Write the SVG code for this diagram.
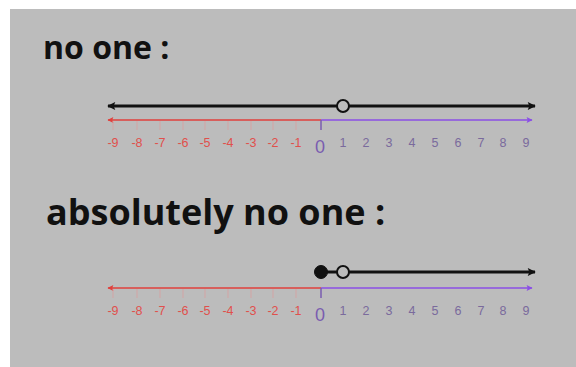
<svg xmlns="http://www.w3.org/2000/svg" width="576" height="367" viewBox="0 0 576 367">
<defs>
<style>
.title{font-family:"Open Sans","DejaVu Sans",sans-serif;font-weight:bold;fill:#111}
.neg{font-family:"Liberation Sans",Arial,sans-serif;font-size:12.5px;fill:#e0504c;text-anchor:middle}
.pos{font-family:"Liberation Sans",Arial,sans-serif;font-size:12.5px;fill:#7a6a9c;text-anchor:middle}
.zero{font-family:"Liberation Sans",Arial,sans-serif;font-size:18px;fill:#7a5cb0;text-anchor:middle}
.blk{stroke:#111;stroke-width:3;fill:none}
.red{stroke:#e0403c;stroke-width:1.5;fill:none}
.pur{stroke:#8b4fe6;stroke-width:1.5;fill:none}
.tick{stroke:#d9a0a0;stroke-width:0.8}
.ztick{stroke:#7a5cb0;stroke-width:1.5}
.open{fill:#bcbcbc;stroke:#111;stroke-width:2}
.fill{fill:#111;stroke:#111;stroke-width:1}
</style>
<marker id="ab" viewBox="0 0 10 10" refX="9" refY="5" markerWidth="5" markerHeight="2.7" orient="auto-start-reverse" markerUnits="strokeWidth"><path d="M0,0 L10,5 L0,10 L2,5 z" fill="#111"/></marker>
<marker id="ar" viewBox="0 0 10 10" refX="9" refY="5" markerWidth="8" markerHeight="4" orient="auto-start-reverse" markerUnits="strokeWidth"><path d="M0,0 L10,5 L0,10 L2,5 z" fill="#e0403c"/></marker>
<marker id="ap" viewBox="0 0 10 10" refX="9" refY="5" markerWidth="8" markerHeight="4" orient="auto-start-reverse" markerUnits="strokeWidth"><path d="M0,0 L10,5 L0,10 L2,5 z" fill="#8b4fe6"/></marker>
<g id="axis">
<line class="red" x1="321" y1="0" x2="108" y2="0" marker-end="url(#ar)"/>
<line class="pur" x1="321" y1="0" x2="532" y2="0" marker-end="url(#ap)"/>
<line class="ztick" x1="321" y1="0" x2="321" y2="10"/>
<g class="tick">
<line x1="113" y1="1" x2="113" y2="10"/><line x1="137" y1="1" x2="137" y2="10"/><line x1="160" y1="1" x2="160" y2="10"/><line x1="183" y1="1" x2="183" y2="10"/><line x1="205" y1="1" x2="205" y2="10"/><line x1="228" y1="1" x2="228" y2="10"/><line x1="251" y1="1" x2="251" y2="10"/><line x1="273" y1="1" x2="273" y2="10"/><line x1="296" y1="1" x2="296" y2="10"/>
</g>
<text class="neg" x="113" y="27">-9</text><text class="neg" x="137" y="27">-8</text><text class="neg" x="160" y="27">-7</text><text class="neg" x="183" y="27">-6</text><text class="neg" x="205" y="27">-5</text><text class="neg" x="228" y="27">-4</text><text class="neg" x="251" y="27">-3</text><text class="neg" x="273" y="27">-2</text><text class="neg" x="296" y="27">-1</text>
<text class="zero" x="320" y="33">0</text>
<text class="pos" x="343" y="27">1</text><text class="pos" x="366" y="27">2</text><text class="pos" x="389" y="27">3</text><text class="pos" x="412" y="27">4</text><text class="pos" x="435" y="27">5</text><text class="pos" x="458" y="27">6</text><text class="pos" x="481" y="27">7</text><text class="pos" x="503" y="27">8</text><text class="pos" x="526" y="27">9</text>
</g>
</defs>
<rect x="0" y="0" width="576" height="367" fill="#ffffff"/>
<rect x="10" y="9" width="566" height="358" fill="#bcbcbc"/>
<g id="title-no-one"><text class="title" x="43" y="59" font-size="32">no one :</text></g>
<g id="numberline-1">
<use href="#axis" y="120"/>
</g>
<g id="solution-1">
<line class="blk" x1="337" y1="106" x2="108" y2="106" marker-end="url(#ab)"/>
<line class="blk" x1="349" y1="106" x2="535" y2="106" marker-end="url(#ab)"/>
<circle class="open" cx="343" cy="106" r="6"/>
</g>
<g id="title-absolutely"><text class="title" x="46" y="225" font-size="36">absolutely no one :</text></g>
<g id="numberline-2">
<use href="#axis" y="288"/>
</g>
<g id="solution-2">
<line class="blk" x1="322" y1="272" x2="337" y2="272"/>
<line class="blk" x1="349" y1="272" x2="535" y2="272" marker-end="url(#ab)"/>
<circle class="fill" cx="321" cy="272" r="6.5"/>
<circle class="open" cx="343" cy="272" r="6"/>
</g>
</svg>
